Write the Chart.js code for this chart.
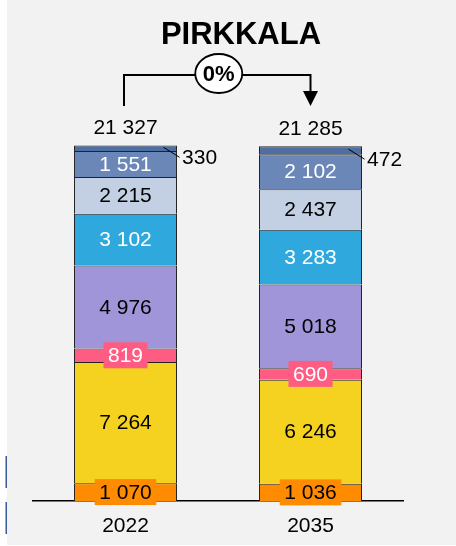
<!DOCTYPE html>
<html>
<head>
<meta charset="utf-8">
<script src="https://cdn.jsdelivr.net/npm/chart.js@4/dist/chart.umd.min.js"></script>
<style>
  html, body { margin: 0; padding: 0; background: #ffffff; }
  #wrap { width: 456px; height: 546px; }
</style>
</head>
<body>
<div id="wrap"><canvas id="chart" width="456" height="546"></canvas></div>
<script>
// Pirkkala: population structure, 2022 and 2035 (stack segments from bottom to top)
const years = ['2022', '2035'];
const group1 = [1070, 1036];
const group2 = [7264, 6246];
const group3 = [819, 690];
const group4 = [4976, 5018];
const group5 = [3102, 3283];
const group6 = [2215, 2437];
const group7 = [1551, 2102];
const group8 = [330, 472];
const totals = [21327, 21285];
const changeText = '0%';
const titleText = 'PIRKKALA';

const FONT = '"Liberation Sans", Arial, sans-serif';
const fmt = n => String(n).replace(/\B(?=(\d{3})+(?!\d))/g, ' ');

function seg(data, color, opts) {
  return Object.assign({
    data: data,
    backgroundColor: color,
    borderColor: '#222222',
    borderWidth: { top: 1, left: 1, right: 1, bottom: 0 },
    borderSkipped: false,
    barPercentage: 0.557,
    categoryPercentage: 1.0,
    labelColor: '#000000',
    labelBox: null,
    labelMode: 'inside'
  }, opts || {});
}

const datasets = [
  seg(group1, '#ff8c00', { labelBox: '#ff8c00' }),
  seg(group2, '#f4d21f'),
  seg(group3, '#ff5c84', { labelBox: '#ff5c84', labelColor: '#ffffff' }),
  seg(group4, '#a095d8'),
  seg(group5, '#2fa9dd', { labelColor: '#ffffff' }),
  seg(group6, '#c3cfe2'),
  seg(group7, '#6a87b8', { labelColor: '#ffffff' }),
  seg(group8, '#4d6fa3', { labelMode: 'outside' })
];

// page background and the small marks on the left edge
const backdrop = {
  id: 'backdrop',
  beforeDraw(chart) {
    const ctx = chart.ctx;
    ctx.save();
    ctx.fillStyle = '#ffffff';
    ctx.fillRect(0, 0, chart.width, chart.height);
    ctx.fillStyle = '#f2f2f2';
    ctx.fillRect(7, 0, chart.width - 7, chart.height - 1);
    ctx.fillStyle = '#3b5a9a';
    ctx.fillRect(5.5, 456, 1.5, 32);
    ctx.fillRect(5.5, 502, 1.5, 32);
    ctx.restore();
  }
};

// value labels, totals, title and the change arrow
const annotations = {
  id: 'annotations',
  afterDatasetsDraw(chart) {
    const ctx = chart.ctx;
    ctx.save();
    ctx.font = '21px ' + FONT;
    ctx.textBaseline = 'middle';
    chart.data.datasets.forEach((ds, i) => {
      const meta = chart.getDatasetMeta(i);
      meta.data.forEach((bar, j) => {
        const text = fmt(ds.data[j]);
        const cy = (bar.y + bar.base) / 2;
        if (ds.labelMode === 'outside') {
          const right = bar.x + bar.width / 2;
          ctx.strokeStyle = '#000000';
          ctx.lineWidth = 1;
          ctx.beginPath();
          ctx.moveTo(bar.x + 38, cy - 1);
          ctx.lineTo(right + 2.5, cy + 9);
          ctx.stroke();
          ctx.textAlign = 'left';
          ctx.fillStyle = '#000000';
          ctx.fillText(text, right + 5, cy + 10);
        } else {
          ctx.textAlign = 'center';
          if (ds.labelBox) {
            const w = ctx.measureText(text).width + 9;
            ctx.fillStyle = ds.labelBox;
            ctx.fillRect(bar.x - w / 2, cy - 13, w, 26);
          }
          ctx.fillStyle = ds.labelColor;
          ctx.fillText(text, bar.x, cy + 1);
        }
      });
    });

    // totals above the stacks
    const topMeta = chart.getDatasetMeta(chart.data.datasets.length - 1);
    ctx.textAlign = 'center';
    ctx.fillStyle = '#000000';
    topMeta.data.forEach((bar, j) => {
      ctx.fillText(fmt(totals[j]), bar.x, bar.y - 17);
    });

    // change arrow between the two years
    const xa = topMeta.data[0].x - 1.5;
    const xb = topMeta.data[1].x;
    const yLine = 75;
    ctx.strokeStyle = '#000000';
    ctx.lineWidth = 2;
    ctx.beginPath();
    ctx.moveTo(xa, 106);
    ctx.lineTo(xa, yLine);
    ctx.lineTo(xb, yLine);
    ctx.lineTo(xb, 92);
    ctx.stroke();
    ctx.fillStyle = '#000000';
    ctx.beginPath();
    ctx.moveTo(xb - 7.5, 91);
    ctx.lineTo(xb + 7.5, 91);
    ctx.lineTo(xb, 106);
    ctx.closePath();
    ctx.fill();

    const ex = (xa + xb) / 2 + 1.5;
    const ey = 73.5;
    ctx.beginPath();
    ctx.ellipse(ex, ey, 23.5, 19.5, 0, 0, Math.PI * 2);
    ctx.fillStyle = '#ffffff';
    ctx.fill();
    ctx.lineWidth = 1.8;
    ctx.stroke();
    ctx.fillStyle = '#000000';
    ctx.font = 'bold 22px ' + FONT;
    ctx.fillText(changeText, ex, ey + 1);

    // title
    ctx.font = 'bold 31px ' + FONT;
    ctx.fillText(titleText, 241, 35);
    ctx.restore();
  }
};

new Chart(document.getElementById('chart'), {
  type: 'bar',
  data: { labels: years, datasets: datasets },
  options: {
    responsive: false,
    devicePixelRatio: 1,
    animation: false,
    layout: { padding: { left: 33, right: 53, top: 101, bottom: 0 } },
    plugins: {
      legend: { display: false },
      tooltip: { enabled: false },
      title: { display: false }
    },
    scales: {
      x: {
        stacked: true,
        grid: { display: false, drawTicks: false },
        border: { display: true, color: '#000000', width: 1.5 },
        ticks: { color: '#000000', font: { family: FONT, size: 21 }, padding: 13 },
        afterFit(scale) { scale.height = 45; }
      },
      y: {
        stacked: true,
        display: false,
        min: 0,
        max: 24000
      }
    }
  },
  plugins: [backdrop, annotations]
});
</script>
</body>
</html>
